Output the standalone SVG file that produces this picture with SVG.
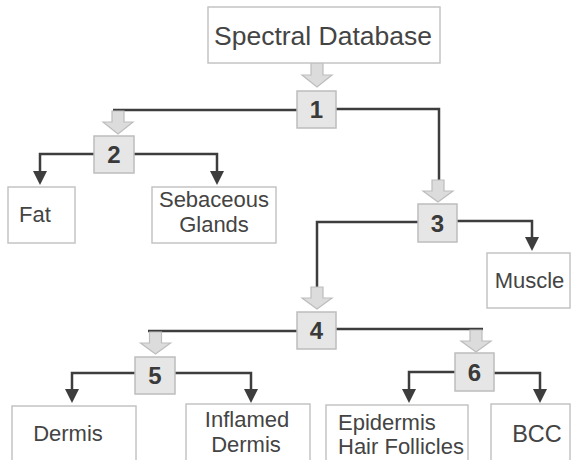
<svg xmlns="http://www.w3.org/2000/svg" width="571" height="460" viewBox="0 0 571 460">
<defs>
<style>
.tb{fill:#fff;stroke:#c4c4c4;stroke-width:1.5}
.nb{fill:#e6e6e6;stroke:#bdbdbd;stroke-width:1.5}
.t{font-family:"Liberation Sans",Arial,sans-serif;font-size:22px;fill:#444}
.n{font-family:"Liberation Sans",Arial,sans-serif;font-size:24px;font-weight:bold;fill:#3a3a3a;text-anchor:middle}
.c{fill:none;stroke:#3d3d3d;stroke-width:2.5}
.ga{fill:#dcdcdc;stroke:#bdbdbd;stroke-width:1.2}
</style>
<marker id="ah" viewBox="0 0 14 14" refX="9" refY="7" markerWidth="14" markerHeight="14" markerUnits="userSpaceOnUse" orient="auto">
<path d="M0,0 L14,7 L0,14 Z" fill="#3d3d3d"/>
</marker>
</defs>

<g id="connectors">
<path class="c" d="M297,110 H113"/>
<path class="c" d="M336,109 H439 V180"/>
<path class="c" d="M94,154 H40 V180" marker-end="url(#ah)"/>
<path class="c" d="M134,154 H217 V180" marker-end="url(#ah)"/>
<path class="c" d="M418,222 H317 V287"/>
<path class="c" d="M457,221 H532 V246" marker-end="url(#ah)"/>
<path class="c" d="M297,331 H148"/>
<path class="c" d="M336,329 H483"/>
<path class="c" d="M135,373 H72 V398" marker-end="url(#ah)"/>
<path class="c" d="M175,373 H251 V398" marker-end="url(#ah)"/>
<path class="c" d="M455,372 H409 V398" marker-end="url(#ah)"/>
<path class="c" d="M494,373 H540 V398" marker-end="url(#ah)"/>
<path class="ga" d="M311,63 H323 V75 H332 L317,87 L302,75 H311 Z"/>
<path class="ga" d="M112,111 H124 V122 H133 L118,134 L103,122 H112 Z"/>
<path class="ga" d="M432,180 H444 V191 H453 L438,202 L423,191 H432 Z"/>
<path class="ga" d="M311,287 H323 V298 H332 L317,309 L302,298 H311 Z"/>
<path class="ga" d="M149.5,332 H161.5 V343 H170.5 L155.5,354 L140.5,343 H149.5 Z"/>
<path class="ga" d="M470,330 H482 V341 H491 L476,352 L461,341 H470 Z"/>
</g>

<g id="spectral-database">
<rect class="tb" x="208" y="7" width="232" height="56"/>
<text class="t" x="323" y="45" text-anchor="middle" style="font-size:26.5px">Spectral Database</text>
</g>
<g id="node1"><rect class="nb" x="297" y="91" width="39" height="37"/><text class="n" x="316.5" y="118">1</text></g>
<g id="node2"><rect class="nb" x="94" y="136" width="40" height="37"/><text class="n" x="114" y="163">2</text></g>
<g id="node3"><rect class="nb" x="418" y="204" width="39" height="38"/><text class="n" x="437.5" y="232">3</text></g>
<g id="node4"><rect class="nb" x="297" y="312" width="39" height="37"/><text class="n" x="316.5" y="339">4</text></g>
<g id="node5"><rect class="nb" x="135" y="357" width="40" height="37"/><text class="n" x="155" y="384">5</text></g>
<g id="node6"><rect class="nb" x="455" y="353" width="39" height="38"/><text class="n" x="474.5" y="381">6</text></g>

<g id="fat"><rect class="tb" x="8" y="187" width="67" height="56"/><text class="t" x="19" y="222">Fat</text></g>
<g id="sebaceous-glands"><rect class="tb" x="152" y="187" width="124" height="56"/>
<text class="t" x="214" y="207" text-anchor="middle">Sebaceous</text>
<text class="t" x="214" y="232" text-anchor="middle">Glands</text></g>
<g id="muscle"><rect class="tb" x="487" y="253" width="83" height="55"/><text class="t" x="529.5" y="288" text-anchor="middle">Muscle</text></g>
<g id="dermis"><rect class="tb" x="12" y="406" width="124" height="60"/><text class="t" x="68" y="441" text-anchor="middle">Dermis</text></g>
<g id="inflamed-dermis"><rect class="tb" x="186" y="404" width="124" height="62"/>
<text class="t" x="247" y="427" text-anchor="middle">Inflamed</text>
<text class="t" x="246" y="452" text-anchor="middle">Dermis</text></g>
<g id="epidermis-hair-follicles"><rect class="tb" x="326" y="405" width="142" height="61"/>
<text class="t" x="338" y="430">Epidermis</text>
<text class="t" x="338" y="454">Hair Follicles</text></g>
<g id="bcc"><rect class="tb" x="491" y="404" width="79" height="62"/><text class="t" x="537" y="442" text-anchor="middle" style="font-size:23.5px">BCC</text></g>
</svg>
